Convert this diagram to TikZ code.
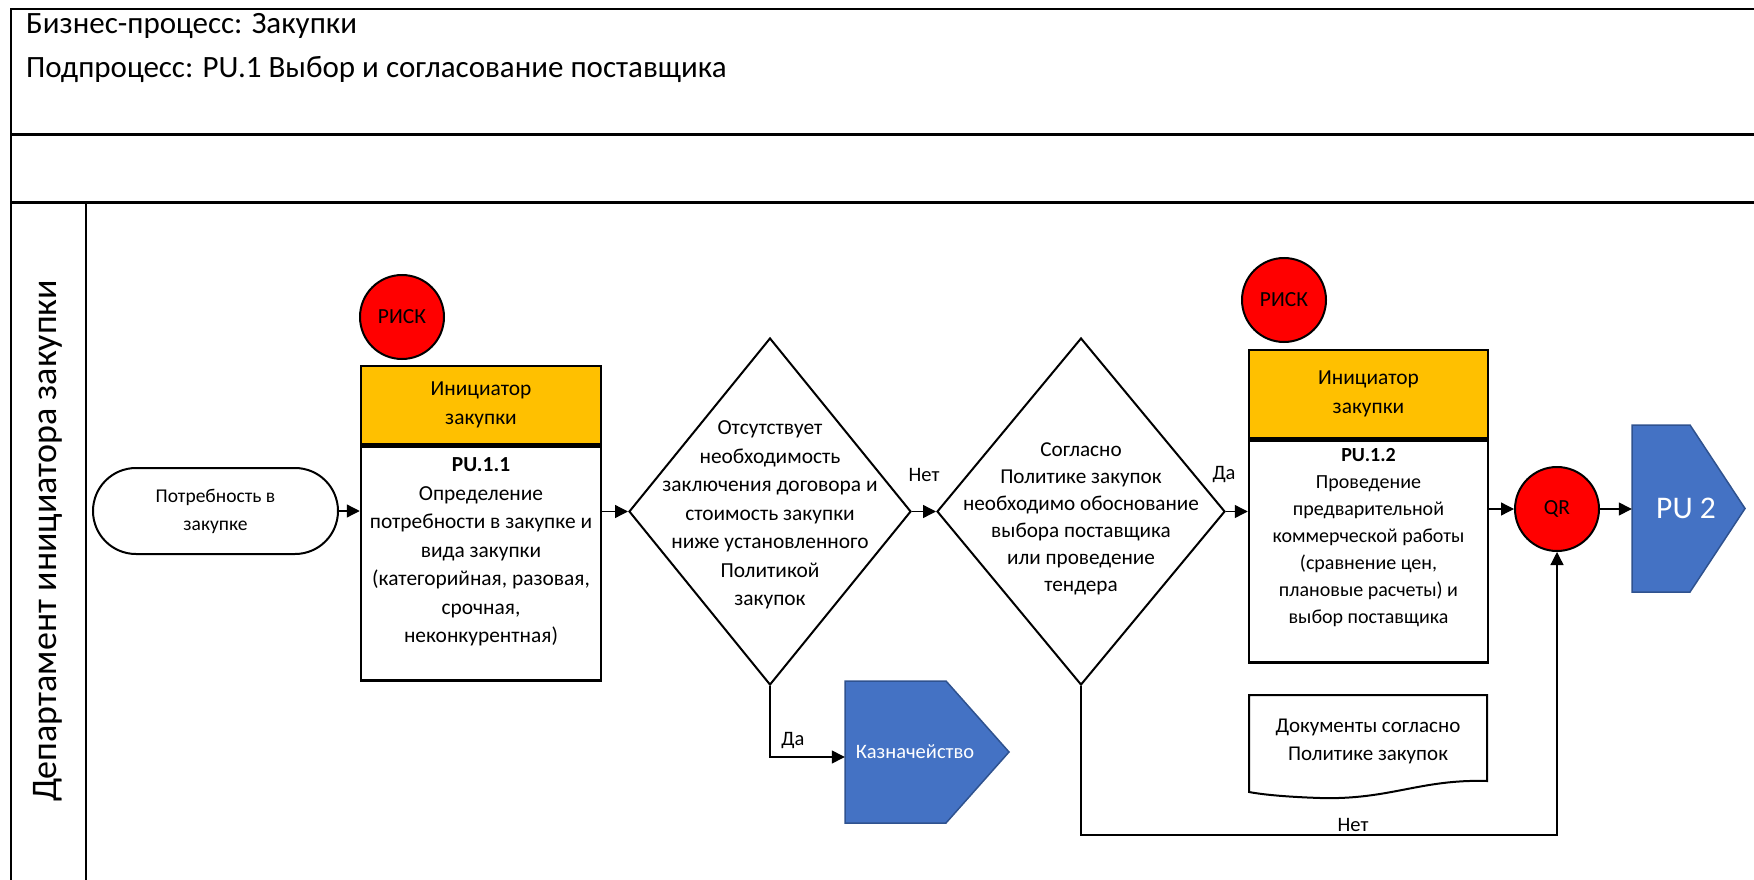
\documentclass[tikz,border=0pt]{standalone}
\usepackage{fontspec}
\setmainfont{Carlito}
\usetikzlibrary{shapes.geometric,arrows.meta}
\definecolor{hdrY}{HTML}{FFC000}
\definecolor{riskR}{HTML}{FF0000}
\definecolor{pageB}{HTML}{4472C4}
\definecolor{pageBd}{HTML}{2F528F}
\begin{document}
\begin{tikzpicture}[x=1pt,y=-1pt,
  txt/.style={font=\fontsize{21.4}{28.5}\selectfont, align=center},
  txtb/.style={font=\fontsize{20}{27}\selectfont, align=center},
  frameline/.style={line width=2.2pt},
  hdrbox/.style={draw, line width=2.5pt, fill=hdrY, txt, inner sep=0pt},
  bodybox/.style={draw, line width=2.5pt, fill=white, inner sep=0pt},
  riskc/.style={circle, draw, line width=2pt, fill=riskR, minimum size=84pt, inner sep=0pt, font=\fontsize{21.5}{24}\selectfont},
  dia/.style={diamond, draw, line width=2pt, inner sep=0pt},
  term/.style={rectangle, rounded corners=43pt, draw, line width=2pt, font=\fontsize{19.5}{28}\selectfont, align=center, inner sep=0pt},
  arr/.style={line width=1.3pt, -{Triangle[length=13pt,width=13pt]}},
  pageref/.style={fill=pageB, draw=pageBd, line width=1.5pt},
  lbl/.style={font=\fontsize{20.5}{23}\selectfont, inner sep=1pt}
]
\useasboundingbox (0,0) rectangle (1754,880);
% frame
\draw[frameline] (1754,9) -- (11,9) -- (11,880);
\draw[frameline] (11,134.5) -- (1754,134.5);
\draw[frameline] (11,202.5) -- (1754,202.5);
\draw[frameline] (86,202.5) -- (86,880);
% titles
\node[anchor=base west, font=\fontsize{31}{36}\selectfont, inner sep=0pt] (t1) at (26,34) {Бизнес-процесс: Закупки};
\node[anchor=base west, font=\fontsize{31}{36}\selectfont, inner sep=0pt] (t2) at (26,78) {Подпроцесс: PU.1 Выбор и согласование поставщика};
% lane
\node[rotate=90, font=\fontsize{36}{42}\selectfont] (lane) at (48,541) {Департамент инициатора закупки};
% start
\node[term, minimum width=245pt, minimum height=86pt] (term) at (215.5,511) {Потребность в\\закупке};
% box 1
\node[riskc] (r1) at (402,317) {РИСК};
\node[hdrbox, minimum width=240pt, minimum height=78pt] (h1) at (481,405) {Инициатор\\закупки};
\node[bodybox, minimum width=240pt, minimum height=234pt, anchor=north] (b1) at (h1.south) {};
\node[txt] (b1t) at (481,552) {\textbf{PU.1.1}\\Определение\\потребности в закупке и\\вида закупки\\(категорийная, разовая,\\срочная,\\неконкурентная)};
% diamonds
\node[dia, minimum width=282pt, minimum height=347pt] (d1) at (770,511.5) {};
\node[txt] (d1t) at (770,515) {Отсутствует\\необходимость\\заключения договора и\\стоимость закупки\\ниже установленного\\Политикой\\закупок};
\node[dia, minimum width=288pt, minimum height=347pt] (d2) at (1081,511.5) {};
\node[txt, font=\fontsize{21.2}{27}\selectfont] (d2t) at (1081,519) {Согласно\\Политике закупок\\необходимо обоснование\\выбора поставщика\\или проведение\\тендера};
% box 2
\node[riskc] (r2) at (1284,300) {РИСК};
\node[hdrbox, minimum width=239pt, minimum height=88pt] (h2) at (1368.5,394) {Инициатор\\закупки};
\node[bodybox, minimum width=239pt, minimum height=222pt, anchor=north] (b2) at (h2.south) {};
\node[txtb] (b2t) at (1368.5,538) {\textbf{PU.1.2}\\Проведение\\предварительной\\коммерческой работы\\(сравнение цен,\\плановые расчеты) и\\выбор поставщика};
% QR
\node[riskc] (qr) at (1557,509) {QR};
% off-page PU 2
\fill[pageref] (1632,425) -- (1690,425) -- (1745,508.5) -- (1690,592) -- (1632,592) -- cycle;
\node[minimum width=108pt, minimum height=167pt, inner sep=0pt, text=white, font=\fontsize{31.5}{36}\selectfont] (pu2) at (1686,508.5) {PU 2};
% off-page Kazn
\fill[pageref] (845,681) -- (946,681) -- (1009,752) -- (946,823) -- (845,823) -- cycle;
\node[minimum width=140pt, minimum height=142pt, inner sep=0pt, text=white, font=\fontsize{20.5}{24}\selectfont] (kz) at (915,752) {Казначейство};
% document
\draw[line width=2pt, fill=white] (1249,695) -- (1487,695) -- (1487,781) .. controls (1420,779) and (1390,800) .. (1320,798) .. controls (1290,797) and (1265,795) .. (1249,792) -- cycle;
\node[font=\fontsize{21}{28}\selectfont, align=center] (doc) at (1368,741.5) {Документы согласно\\Политике закупок};
% connectors
\draw[arr] (term.east) -- (term.east -| b1.west);
\draw[arr] (d1.west -| b1.east) -- (d1.west);
\draw[arr] (d1.east) -- (d2.west);
\draw[arr] (d2.east) -- (d2.east -| b2.west);
\draw[arr] (qr.west -| b2.east) -- (qr.west);
\draw[arr] (qr.east) -- (qr.east -| pu2.west);
\draw[arr] (d1.south) |- ([yshift=-5pt]kz.west);
\coordinate (nb) at (1081,835);
\draw[arr] (d2.south) -- (nb) -| (qr.south);
% labels
\node[lbl] (l1) at (924,475) {Нет};
\node[lbl] (l2) at (1224,475) {Да};
\node[lbl] (l3) at (793,741) {Да};
\node[lbl] (l4) at (1353,825) {Нет};
\end{tikzpicture}
\end{document}
